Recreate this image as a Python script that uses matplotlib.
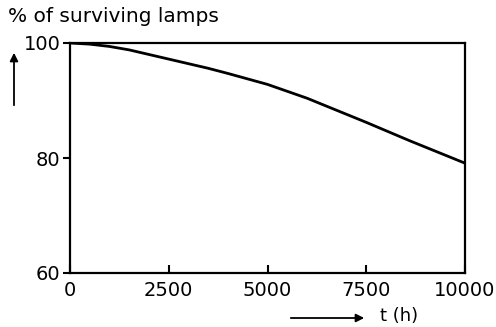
import numpy as np
import matplotlib
matplotlib.use("Agg")
import matplotlib.pyplot as plt

# Data
t_hours = [0, 500, 1000, 1500, 2500, 3500, 4000, 5000, 6000, 7500, 8600, 10000]
surviving = [100, 99.8, 99.4, 98.8, 97.2, 95.6, 94.7, 92.8, 90.4, 86.2, 83.0, 79.1]
x_ticks = [0, 2500, 5000, 7500, 10000]
y_ticks = [60, 80, 100]

fig = plt.figure(figsize=(4.96, 3.27), dpi=100)
ax = fig.add_axes([70 / 496, 54 / 327, 395 / 496, 230 / 327])

ax.plot(t_hours, surviving, color="black", linewidth=2)

ax.set_xlim(0, 10000)
ax.set_ylim(60, 100)
ax.set_xticks(x_ticks)
ax.set_yticks(y_ticks)
ax.tick_params(axis="x", direction="in", length=6, width=1.5, labelsize=14, pad=6)
ax.tick_params(axis="y", direction="out", length=5, width=1.5, labelsize=14, pad=2)
for s in ax.spines.values():
    s.set_linewidth(1.6)

# Axis captions with arrows
fig.text(8 / 496, 1 - 17 / 327, "% of surviving lamps", fontsize=14.5,
         ha="left", va="center")
fig.text(380 / 496, 1 - 316 / 327, "t (h)", fontsize=13, ha="left", va="center")

fig.patches.append(matplotlib.patches.FancyArrowPatch(
    (14 / 496, 1 - 108 / 327), (14 / 496, 1 - 50 / 327),
    transform=fig.transFigure, arrowstyle="-|>", mutation_scale=12,
    color="black", linewidth=1.3))
fig.patches.append(matplotlib.patches.FancyArrowPatch(
    (288 / 496, 1 - 318 / 327), (367 / 496, 1 - 318 / 327),
    transform=fig.transFigure, arrowstyle="-|>", mutation_scale=12,
    color="black", linewidth=1.3))

fig.savefig("out.png", dpi=100)
